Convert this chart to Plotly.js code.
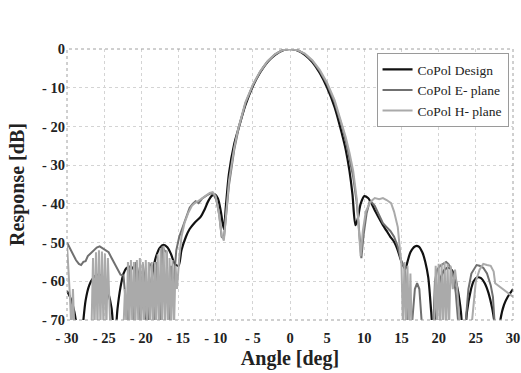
<!DOCTYPE html>
<html>
<head>
<meta charset="utf-8">
<script src="https://cdn.plot.ly/plotly-3.0.1.min.js"></script>
<style>html,body{margin:0;padding:0;background:#fff;}#chart{width:521px;height:373px;}</style>
</head>
<body>
<div id="chart"></div>
<script>
// Angle (deg) and response (dB)
const designAngle = [-30,-29.5,-29,-28.6,-28.3,-27.9,-27.5,-27,-26.5,-26,-25.6,-25,-24.5,-24,-23.6,-23.2,-22.8,-22.4,-22,-21.6,-21.2,-20.8,-20.4,-20,-19.6,-19.2,-18.9,-18.5,-18,-17.5,-17,-16.5,-16,-15.5,-15,-14.6,-14,-13.5,-12.8,-12,-11.5,-11,-10.5,-10.1,-9.7,-9.3,-8.9,-8.6,-8.2,-7.5,-7,-6,-5,-4,-3,-2,-1,0,1,2,3,4,5,6,7,7.5,8,8.4,8.8,9.1,9.5,10,10.5,11,11.5,12,12.5,13,13.5,14,14.5,15,15.5,15.8,16.2,16.8,17.3,17.8,18.2,18.6,19,19.4,19.8,20.3,20.8,21.3,21.8,22.2,22.6,23,23.4,23.8,24.3,24.7,25.2,25.7,26.2,26.7,27.2,27.6,27.9,28.3,28.8,29.3,30];
const designResp  = [-62.5,-64.5,-68,-73,-78,-72,-65,-61,-59.2,-58.4,-58.3,-59.5,-62.5,-67,-76,-67,-61.5,-58,-56.6,-56.3,-56.5,-57.8,-60,-63,-68,-76,-66,-58,-53.5,-51.3,-50.6,-51.2,-53,-55.5,-56,-52,-48.5,-46.5,-44.8,-43.3,-41.5,-39.3,-37.9,-37.6,-38.6,-42,-46.5,-40,-32,-24.5,-21,-14.5,-9.6,-6,-3.3,-1.5,-0.4,0,-0.4,-1.5,-3.4,-6.2,-10,-15,-22,-26,-31.5,-37.5,-45.5,-44,-40,-38,-38.5,-40,-42,-43.8,-45.5,-47,-48.5,-49.8,-52,-55,-56.8,-55,-52.5,-51,-51,-52.5,-55,-59,-68,-78,-64,-59,-57,-56.5,-57.2,-59.2,-62.5,-68,-78,-68,-62.5,-60,-59,-59.2,-60.5,-63,-67,-72,-78,-70,-66,-64,-62];

const eAngle = [-30,-29.6,-29.2,-28.8,-28.4,-28.1,-27.8,-27.5,-27.2,-26.8,-26.4,-26,-25.6,-25.2,-24.8,-24.4,-24,-23.6,-23.2,-22.8,-22.4,-22.1,-21.8,-21.5,-21.1,-20.7,-20.4,-20.1,-19.8,-19.5,-19.2,-18.9,-18.6,-18.2,-17.9,-17.5,-17.2,-16.9,-16.6,-16.3,-16,-15.7,-15.3,-14.9,-14.5,-14,-13.5,-13.1,-12.7,-12.3,-11.8,-11.2,-10.7,-10.3,-9.9,-9.5,-9.2,-8.9,-8.6,-8.2,-7.5,-7,-6,-5,-4,-3,-2,-1,0,1,2,3,4,5,6,7,7.5,8,8.5,9,9.3,9.6,9.9,10.3,10.7,11,11.4,12,12.5,13,13.5,14,14.5,15,15.4,15.7,15.9,16.2,16.5,16.8,17.1,17.4,17.7,18,19,19.3,19.5,19.8,20.2,20.6,21,21.3,21.6,22,22.3,22.6,22.9,23.4,23.7,24,24.4,24.8,25.1,25.5,26,26.5,27,27.3,27.5,27.7,30];
const eResp  = [-50,-51.5,-53,-54.5,-55.5,-55.8,-55,-54.8,-53.5,-52.8,-52,-51.3,-51,-51.5,-51.8,-52.5,-54,-55.5,-57,-58.3,-58.5,-65,-72,-56,-72,-55,-58,-72,-55.5,-60,-72,-55.5,-56,-72,-55,-72,-51,-52,-52.5,-72,-56,-62,-52,-48.5,-46.5,-43.5,-41,-40,-39.3,-39.8,-38.6,-37.8,-37.3,-37.5,-39,-43,-48.5,-49,-43,-35,-26,-21.3,-14,-9.4,-5.9,-3.2,-1.4,-0.3,0,-0.3,-1.3,-3.1,-5.7,-9.2,-13.8,-20,-23.8,-28,-33,-40,-47,-54,-48,-42.5,-39.5,-39.6,-40.5,-43,-45,-46,-47,-48.5,-51,-55,-56.3,-62,-72,-76,-70,-62,-60.5,-62,-70,-76,-76,-70,-60,-57,-56,-55.5,-55,-55.5,-56.5,-59,-63,-70,-76,-76,-70,-62,-58,-56.5,-55.8,-56,-56.5,-58,-61,-64,-70,-76,-76];

const hAngle = [-30,-29.8,-29.6,-29.4,-29.2,-29,-28.7,-26.9,-26.7,-26.5,-26.3,-26.1,-25.9,-25.7,-25.5,-25.3,-25.1,-24.9,-24.7,-24.5,-24.3,-24.1,-22.6,-22.4,-22.2,-22,-21.8,-21.6,-21.4,-21.2,-21,-20.8,-20.6,-20.4,-20.2,-20,-19.8,-19.6,-19.4,-19.2,-19,-18.8,-18.6,-18.4,-18.2,-18,-17.8,-17.6,-17.4,-17.2,-17,-16.8,-16.6,-16.4,-16.2,-16,-15.8,-15.6,-15.4,-15.2,-14.9,-14.6,-14.2,-13.7,-13.2,-12.8,-12.3,-11.8,-11.2,-10.8,-10.4,-10,-9.6,-9.2,-8.9,-8.6,-8.2,-7.5,-7,-6,-5,-4,-3,-2,-1,0,1,2,3,4,5,6,7,7.5,8,8.5,9,9.3,9.5,9.8,10.2,10.8,11.4,12,12.5,13,13.6,14,14.5,14.8,15,15.2,15.4,15.6,15.8,16,16.2,16.4,19.2,19.4,19.6,19.8,20,20.2,20.4,20.6,20.8,21,21.2,21.4,21.6,21.9,22.2,22.5,22.8,23.8,24.1,24.5,25,25.5,26,26.5,27,27.4,27.6,30];
const hResp  = [-50.5,-56,-64,-73,-62,-73,-76,-76,-72,-54,-73,-52.5,-72,-52,-72,-52.3,-72,-52.8,-72,-54,-72,-76,-76,-72,-62,-72,-55,-72,-54.5,-72,-55,-72,-54.5,-72,-54,-72,-55,-72,-54.5,-72,-55,-72,-55,-72,-55,-72,-53,-72,-51.5,-72,-50.8,-72,-52,-72,-54,-72,-54.5,-72,-56,-62,-54,-48.5,-45,-42.4,-40.5,-39.8,-39.2,-38.5,-37.8,-37.2,-37,-38,-42,-48,-49.5,-42,-34,-25.5,-20.8,-13.8,-9.2,-5.7,-3.1,-1.3,-0.3,0,-0.3,-1.2,-2.9,-5.4,-8.8,-13.2,-19.2,-22.8,-26.8,-31.5,-39,-47,-53.5,-47,-42,-39.5,-38.5,-38.8,-38.5,-39,-39.8,-42,-46,-52,-56,-72,-55,-72,-56,-72,-58,-76,-76,-72,-56,-72,-55.5,-72,-55.5,-72,-55,-72,-55.5,-72,-56,-62,-57,-62,-70,-76,-76,-70,-60,-57,-55.5,-55.8,-56,-57.5,-60.5,-64,-76,-76];

const xTickVals = [-30,-25,-20,-15,-10,-5,0,5,10,15,20,25,30];
const xTickText = ['- 30','- 25','- 20','- 15','- 10','- 5','0','5','10','15','20','25','30'];
const yTickVals = [0,-10,-20,-30,-40,-50,-60,-70];
const yTickText = ['0','- 10','- 20','- 30','- 40','- 50','- 60','- 70'];

const serif = 'Liberation Serif, Times New Roman, serif';

const traces = [
  {x: designAngle, y: designResp, name: 'CoPol Design', mode: 'lines',
   line: {color: '#111111', width: 2.2, shape: 'spline', smoothing: 0.8}},
  {x: eAngle, y: eResp, name: 'CoPol E- plane', mode: 'lines',
   line: {color: '#707070', width: 2, shape: 'linear'}},
  {x: hAngle, y: hResp, name: 'CoPol H- plane', mode: 'lines',
   line: {color: '#aaaaaa', width: 2, shape: 'linear'}}
];

const layout = {
  width: 521, height: 373,
  margin: {l: 67, r: 8, t: 49, b: 53},
  paper_bgcolor: '#ffffff', plot_bgcolor: '#ffffff',
  showlegend: true,
  legend: {x: 0.99, xanchor: 'right', y: 0.985, yanchor: 'top',
           bgcolor: '#ffffff', bordercolor: '#9a9a9a', borderwidth: 1,
           font: {family: serif, size: 13.5, color: '#222'},
           tracegroupgap: 0, itemwidth: 30},
  xaxis: {range: [-30, 30], tickmode: 'array', tickvals: xTickVals, ticktext: xTickText,
          showgrid: true, gridcolor: '#d4d4d4', griddash: 'dot', gridwidth: 1,
          zeroline: false, showline: false, ticks: '', ticklabelstandoff: 7,
          tickfont: {family: serif, size: 14.5, color: '#222', weight: 'bold'},
          title: {text: '<b>Angle [deg]</b>', font: {family: serif, size: 20, color: '#222'}, standoff: 6}},
  yaxis: {range: [-70, 0], tickmode: 'array', tickvals: yTickVals, ticktext: yTickText,
          showgrid: true, gridcolor: '#d4d4d4', griddash: 'dot', gridwidth: 1,
          zeroline: false, showline: false, ticks: '', ticklabelstandoff: 1,
          tickfont: {family: serif, size: 14.5, color: '#222', weight: 'bold'},
          title: {text: '<b>Response [dB]</b>', font: {family: serif, size: 20, color: '#222'}, standoff: 12}},
  shapes: [{type: 'rect', xref: 'paper', yref: 'paper', x0: 0, x1: 1, y0: 0, y1: 1,
            line: {color: '#a0a0a0', width: 1, dash: 'dot'}, layer: 'above'}]
};

Plotly.newPlot('chart', traces, layout, {displayModeBar: false, staticPlot: true});
</script>
</body>
</html>
